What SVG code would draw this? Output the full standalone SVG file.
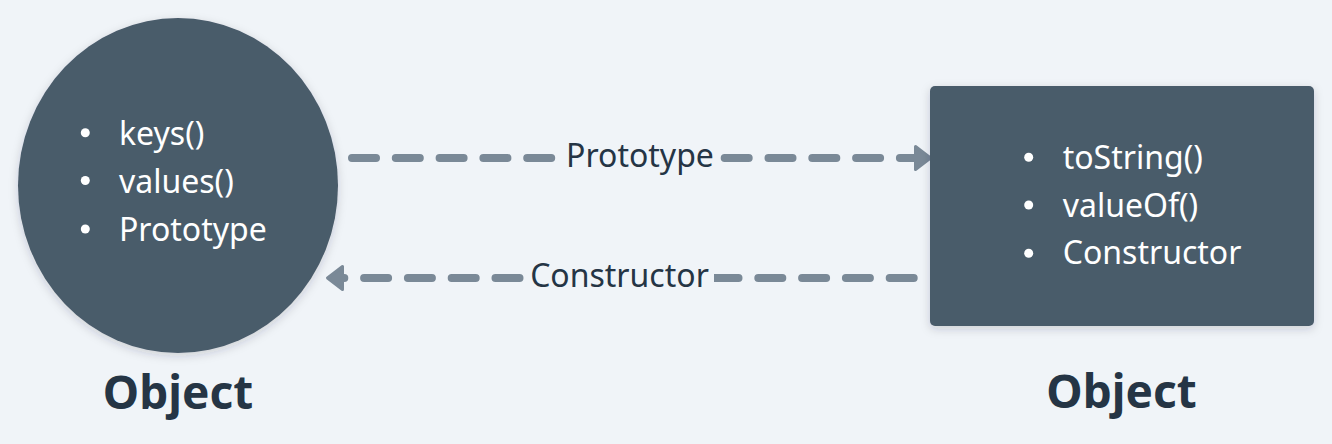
<svg xmlns="http://www.w3.org/2000/svg" width="1332" height="444" viewBox="0 0 1332 444">
  <style>
    .node { fill: #4a5b6b; filter: url(#shadow); }
    .item { font-family: "Noto Sans", "Open Sans", sans-serif; font-size: 32px; fill: #ffffff; }
    .bullet { fill: #ffffff; }
    .title { font-family: "Noto Sans", "Open Sans", sans-serif; font-size: 46px; font-weight: 700; fill: #253545; text-anchor: middle; }
    .edge { fill: none; stroke: #7a8997; stroke-width: 8; stroke-linecap: round; stroke-dasharray: 24 19.8; }
    .elabel { font-family: "Noto Sans", "Open Sans", sans-serif; font-size: 32px; fill: #253545; text-anchor: middle; }
    .lbg { fill: #f0f4f8; }
  </style>
  <defs>
    <filter id="shadow" x="-20%" y="-20%" width="140%" height="140%">
      <feDropShadow dx="0" dy="3" stdDeviation="5" flood-color="#1c2a38" flood-opacity="0.18"/>
    </filter>
    <marker id="arrow" markerUnits="userSpaceOnUse" markerWidth="26" markerHeight="32" viewBox="-4 -16 26 32" refX="0" refY="0" orient="auto">
      <path d="M1.5,-11.5 L16.5,0 L1.5,11.5 Z" fill="#7a8997" stroke="#7a8997" stroke-width="3" stroke-linejoin="round"/>
    </marker>
  </defs>

  <rect width="1332" height="444" fill="#f0f4f8"/>

  <g id="connectors">
    <g id="edge-prototype">
      <path class="edge" d="M352,158 H552"/>
      <path class="edge" d="M724.7,158 H914" marker-end="url(#arrow)"/>
      <text class="elabel" x="640" y="167">Prototype</text>
    </g>
    <g id="edge-constructor">
      <path class="edge" d="M913.7,278 H344" marker-end="url(#arrow)"/>
      <rect class="lbg" x="526" y="260" width="188" height="36"/>
      <text class="elabel" x="619.5" y="287">Constructor</text>
    </g>
  </g>

  <g id="node-left">
    <ellipse class="node" cx="178" cy="185.5" rx="160" ry="167.5"/>
    <circle class="bullet" cx="85.3" cy="132.7" r="4.5"/>
    <circle class="bullet" cx="85.3" cy="180.5" r="4.5"/>
    <circle class="bullet" cx="85.3" cy="229" r="4.5"/>
    <text class="item" x="119" y="145">keys()</text>
    <text class="item" x="119" y="193">values()</text>
    <text class="item" x="119" y="241">Prototype</text>
    <text class="title" x="178" y="409">Object</text>
  </g>

  <g id="node-right">
    <rect class="node" x="930" y="86" width="384" height="240" rx="5"/>
    <circle class="bullet" cx="1028.7" cy="157.3" r="4.5"/>
    <circle class="bullet" cx="1028.7" cy="205" r="4.5"/>
    <circle class="bullet" cx="1028.7" cy="253.3" r="4.5"/>
    <text class="item" x="1062.7" y="169">toString()</text>
    <text class="item" x="1062.7" y="216.7">valueOf()</text>
    <text class="item" x="1062.7" y="264">Constructor</text>
    <text class="title" x="1121.5" y="408">Object</text>
  </g>
</svg>
